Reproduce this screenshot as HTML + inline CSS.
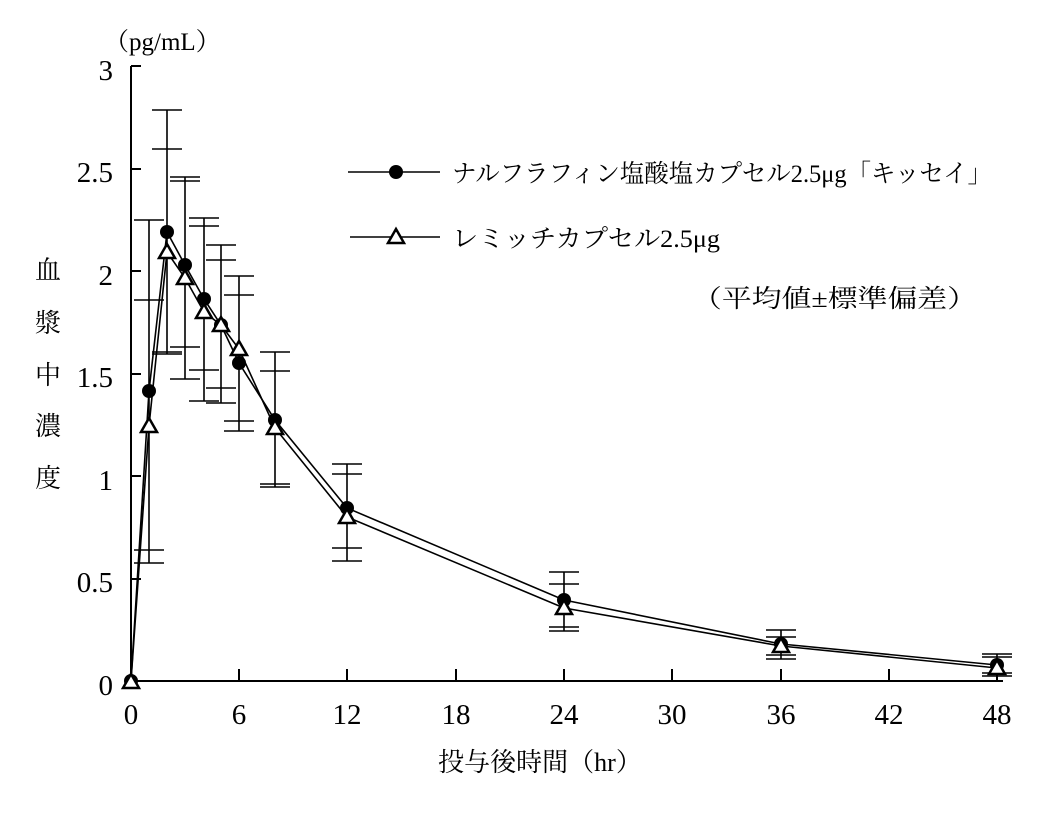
<!DOCTYPE html>
<html><head><meta charset="utf-8"><style>
body{margin:0;background:#fff}
svg text{font-family:"Liberation Serif","Noto Serif CJK JP",serif;fill:#000}
</style></head><body>
<svg width="1053" height="829" viewBox="0 0 1053 829" xmlns="http://www.w3.org/2000/svg">
<g stroke="#000" stroke-width="2" fill="none">
<path d="M131 66V681H1003"/>
<path d="M131 66h10M131 169h10M131 271h10M131 374h10M131 476h10M131 579h10"/>
<path d="M239 681v-12M347 681v-12M456 681v-12M564 681v-12M672 681v-12M781 681v-12M889 681v-12M997 681v-12"/>
</g>
<g stroke="#000" stroke-width="1.6" fill="none">
<path d="M149 220V563M167 110V354M185 177V379M204 218V401M221 245V403M239 276V431M275 352V487M347 464V561M564 572V631M781 630V659M997 654V676"/>
<path d="M134 220h30M134 300h30M134 550h30M134 563h30
M152 110h30M152 149h30M152 352h30M152 354h30
M170 177h30M170 181h30M170 347h30M170 379h30
M189 218h30M189 226h30M189 370h30M189 401h30
M206 245h30M206 260h30M206 388h30M206 403h30
M224 276h30M224 295h30M224 421h30M224 431h30
M260 352h30M260 371h30M260 484h30M260 487h30
M332 464h30M332 474h30M332 548h30M332 561h30
M549 572h30M549 584h30M549 627h30M549 631h30
M766 630h30M766 637h30M766 655h30M766 659h30
M982 654h30M982 657h30M982 673h30M982 676h30"/>
<polyline points="131,681 149,391 167,232 185,265 204,299 221,325 239,363 275,420 347,508 564,600 781,644 997,665"/>
<polyline points="131,681 149,426 167,252 185,278 204,312 221,325 239,349 275,428 347,517 564,608 781,646 997,668"/>
<path d="M348 172h92M350 237h90"/>
</g>
<g fill="#000">
<circle cx="149" cy="391" r="7"/><circle cx="167" cy="232" r="7"/><circle cx="185" cy="265" r="7"/><circle cx="204" cy="299" r="7"/><circle cx="221" cy="325" r="7"/><circle cx="239" cy="363" r="7"/><circle cx="275" cy="420" r="7"/><circle cx="347" cy="508" r="7"/><circle cx="564" cy="600" r="7"/><circle cx="781" cy="644" r="7"/><circle cx="997" cy="665" r="7"/><circle cx="131" cy="681" r="7"/>
<circle cx="396" cy="172" r="7"/>
</g>
<g fill="#fff" stroke="#000" stroke-width="2.5">
<path d="M149 418l-8 14h16zM167 244l-8 14h16zM185 270l-8 14h16zM204 304l-8 14h16zM221 317l-8 14h16zM239 341l-8 14h16zM275 420l-8 14h16zM347 509l-8 14h16zM564 600l-8 14h16zM781 638l-8 14h16zM997 660l-8 14h16zM131 674l-8 14h16zM396 229l-8 14h16z"/>
</g>
<g font-size="29" text-anchor="end">
<text x="113" y="80">3</text><text x="113" y="182">2.5</text><text x="113" y="285">2</text><text x="113" y="387">1.5</text><text x="113" y="490">1</text><text x="113" y="592">0.5</text><text x="113" y="695">0</text>
</g>
<g font-size="29" text-anchor="middle">
<text x="131" y="724">0</text><text x="239" y="724">6</text><text x="347" y="724">12</text><text x="456" y="724">18</text><text x="564" y="724">24</text><text x="672" y="724">30</text><text x="781" y="724">36</text><text x="889" y="724">42</text><text x="997" y="724">48</text>
</g>
<text x="104" y="50" font-size="25">（pg/mL）</text>
<g font-size="26" text-anchor="middle">
<text x="48" y="279">血</text><text x="48" y="332">漿</text><text x="48" y="384">中</text><text x="48" y="435">濃</text><text x="48" y="487">度</text>
</g>
<text x="540" y="771" font-size="26" text-anchor="middle">投与後時間（hr）</text>
<text x="452" y="182" font-size="25" textLength="540" lengthAdjust="spacingAndGlyphs">ナルフラフィン塩酸塩カプセル2.5μg「キッセイ」</text>
<text x="452" y="247" font-size="25" textLength="268" lengthAdjust="spacingAndGlyphs">レミッチカプセル2.5μg</text>
<text x="692" y="307" font-size="25" textLength="285" lengthAdjust="spacingAndGlyphs">（平均値±標準偏差）</text>
</svg>
</body></html>
